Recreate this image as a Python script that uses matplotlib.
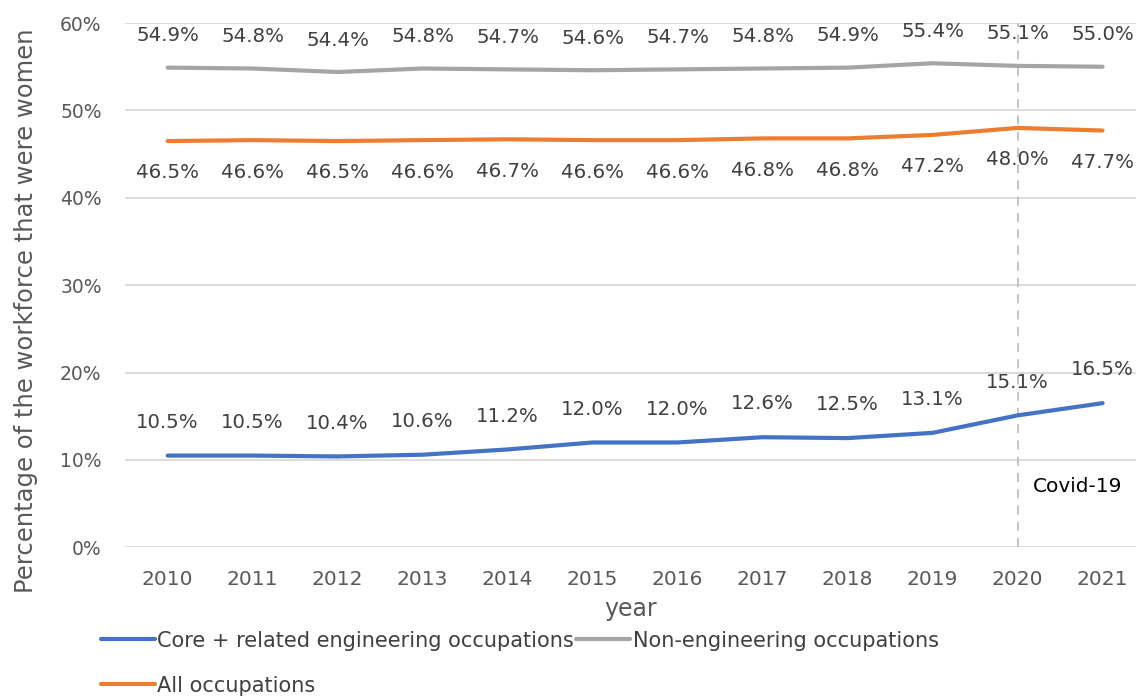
import numpy as np
import matplotlib
matplotlib.use("Agg")
import matplotlib.pyplot as plt

# Datos (porcentaje de mujeres en la fuerza laboral)
years = ["2010", "2011", "2012", "2013", "2014", "2015", "2016", "2017", "2018", "2019", "2020", "2021"]
core_eng = [10.5, 10.5, 10.4, 10.6, 11.2, 12.0, 12.0, 12.6, 12.5, 13.1, 15.1, 16.5]
non_eng = [54.9, 54.8, 54.4, 54.8, 54.7, 54.6, 54.7, 54.8, 54.9, 55.4, 55.1, 55.0]
all_occ = [46.5, 46.6, 46.5, 46.6, 46.7, 46.6, 46.6, 46.8, 46.8, 47.2, 48.0, 47.7]
covid_year = "2020"

c_blue = "#4472C4"
c_orange = "#ED7D31"
c_gray = "#A5A5A5"
txt = "#404040"

fig = plt.figure(figsize=(11.38, 6.99), dpi=100)
ax = fig.add_axes([0.110, 0.217, 0.888, 0.750])

x = np.arange(len(years))
l_core, = ax.plot(x, core_eng, color=c_blue, lw=3, solid_capstyle="round",
                  label="Core + related engineering occupations")
l_non, = ax.plot(x, non_eng, color=c_gray, lw=3, solid_capstyle="round",
                 label="Non-engineering occupations")
l_all, = ax.plot(x, all_occ, color=c_orange, lw=3, solid_capstyle="round",
                 label="All occupations")

# Etiquetas de datos
for xi, v in zip(x, non_eng):
    ax.annotate(f"{v:.1f}%", (xi, v), xytext=(0, 23), textcoords="offset points",
                ha="center", va="center", fontsize=14.2, color=txt)
for xi, v in zip(x, all_occ):
    ax.annotate(f"{v:.1f}%", (xi, v), xytext=(0, -23), textcoords="offset points",
                ha="center", va="center", fontsize=14.2, color=txt)
for xi, v in zip(x, core_eng):
    ax.annotate(f"{v:.1f}%", (xi, v), xytext=(0, 24), textcoords="offset points",
                ha="center", va="center", fontsize=14.2, color=txt)

# Línea de Covid-19
xc = years.index(covid_year)
ax.axvline(xc, color="#BFBFBF", lw=1.3, ls=(0, (5, 4)), zorder=1)
ax.text(xc + 0.18, 7, "Covid-19", fontsize=14.5, color="black", va="center", ha="left")

ax.set_xlim(-0.5, 11.39)
ax.set_ylim(0, 60)
ax.set_yticks(np.arange(0, 61, 10))
ax.set_yticklabels([f"{t}%" for t in range(0, 61, 10)])
ax.set_xticks(x)
ax.set_xticklabels(years)
ax.tick_params(length=0, labelcolor="#595959")
ax.tick_params(axis="x", labelsize=14.5, pad=16)
ax.tick_params(axis="y", labelsize=13.5, pad=17)
ax.grid(axis="y", color="#D9D9D9", lw=1.3)
ax.set_axisbelow(True)
for s in ax.spines.values():
    s.set_visible(False)

ax.set_xlabel("year", fontsize=17, color="#595959", labelpad=6)
ax.set_ylabel("Percentage of the workforce that were women", fontsize=17.5,
              color="#595959")
ax.yaxis.set_label_coords(-0.086, 0.452)

fig.legend(handles=[l_core, l_all, l_non], ncol=2, loc="lower left",
           bbox_to_anchor=(0.072, -0.022), frameon=False,
           prop={"size": 15}, labelcolor=txt,
           handlelength=2.6, handletextpad=0.12, columnspacing=0.1,
           labelspacing=1.2)

plt.savefig("out.png", dpi=100)
